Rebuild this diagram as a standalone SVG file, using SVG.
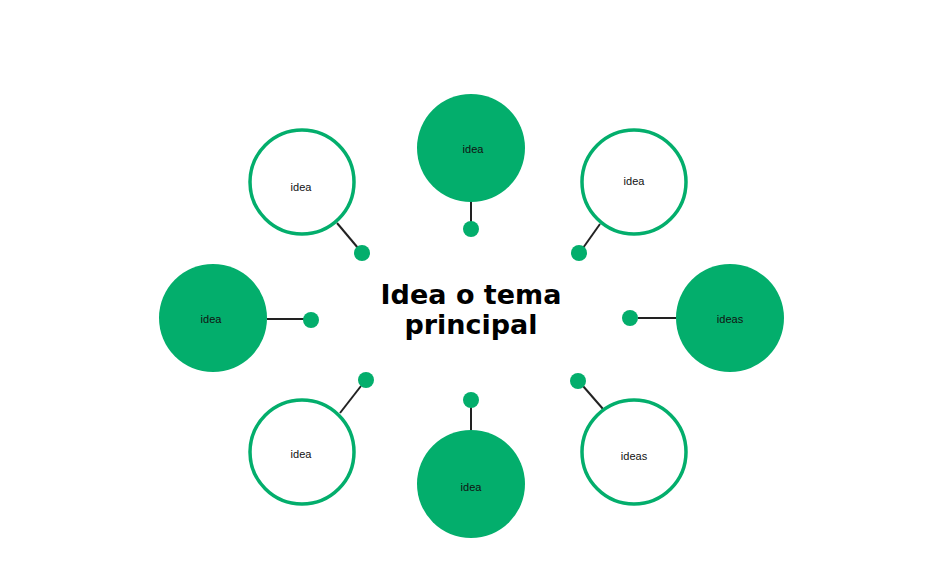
<svg xmlns="http://www.w3.org/2000/svg" width="938" height="578" viewBox="0 0 938 578">
<style>
.o{fill:#fff;stroke:#03ae6c;stroke-width:3.5}
.f{fill:#03ae6c}
.d{fill:#03ae6c}
.l{stroke:#222;stroke-width:2;fill:none}
.t{font-family:"Liberation Sans",Arial,sans-serif;font-size:11px;fill:#111;text-anchor:middle}
.c{font-family:"DejaVu Sans",sans-serif;font-weight:bold;font-size:27px;fill:#000;text-anchor:middle}
</style>
<rect width="938" height="578" fill="#fff"/>
<g id="connectors">
<line class="l" x1="471" y1="202" x2="471" y2="222"/>
<line class="l" x1="337" y1="223" x2="358" y2="248"/>
<line class="l" x1="600" y1="224" x2="583" y2="248"/>
<line class="l" x1="267" y1="319" x2="304" y2="319"/>
<line class="l" x1="638" y1="318" x2="676" y2="318"/>
<line class="l" x1="340" y1="413" x2="361" y2="386"/>
<line class="l" x1="471" y1="407" x2="471" y2="430"/>
<line class="l" x1="603" y1="409" x2="583" y2="386"/>
</g>
<g id="n-top"><circle class="f" cx="471" cy="148" r="54"/><text class="t" x="473" y="153">idea</text><circle class="d" cx="471" cy="229" r="8"/></g>
<g id="n-tl"><circle class="o" cx="302" cy="182" r="52"/><text class="t" x="301" y="191">idea</text><circle class="d" cx="362" cy="253" r="8"/></g>
<g id="n-tr"><circle class="o" cx="634" cy="182" r="52"/><text class="t" x="634" y="185">idea</text><circle class="d" cx="579" cy="253" r="8"/></g>
<g id="n-l"><circle class="f" cx="213" cy="318" r="54"/><text class="t" x="211" y="323">idea</text><circle class="d" cx="311" cy="320" r="8"/></g>
<g id="n-r"><circle class="f" cx="730" cy="318" r="54"/><text class="t" x="730" y="323">ideas</text><circle class="d" cx="630" cy="318" r="8"/></g>
<g id="n-bl"><circle class="o" cx="302" cy="452" r="52"/><text class="t" x="301" y="458">idea</text><circle class="d" cx="366" cy="380" r="8"/></g>
<g id="n-b"><circle class="f" cx="471" cy="484" r="54"/><text class="t" x="471" y="491">idea</text><circle class="d" cx="471" cy="400" r="8"/></g>
<g id="n-br"><circle class="o" cx="634" cy="452" r="52"/><text class="t" x="634" y="460">ideas</text><circle class="d" cx="578" cy="381" r="8"/></g>
<g id="center"><text class="c" x="471" y="304">Idea o tema</text><text class="c" x="471" y="334">principal</text></g>
</svg>
